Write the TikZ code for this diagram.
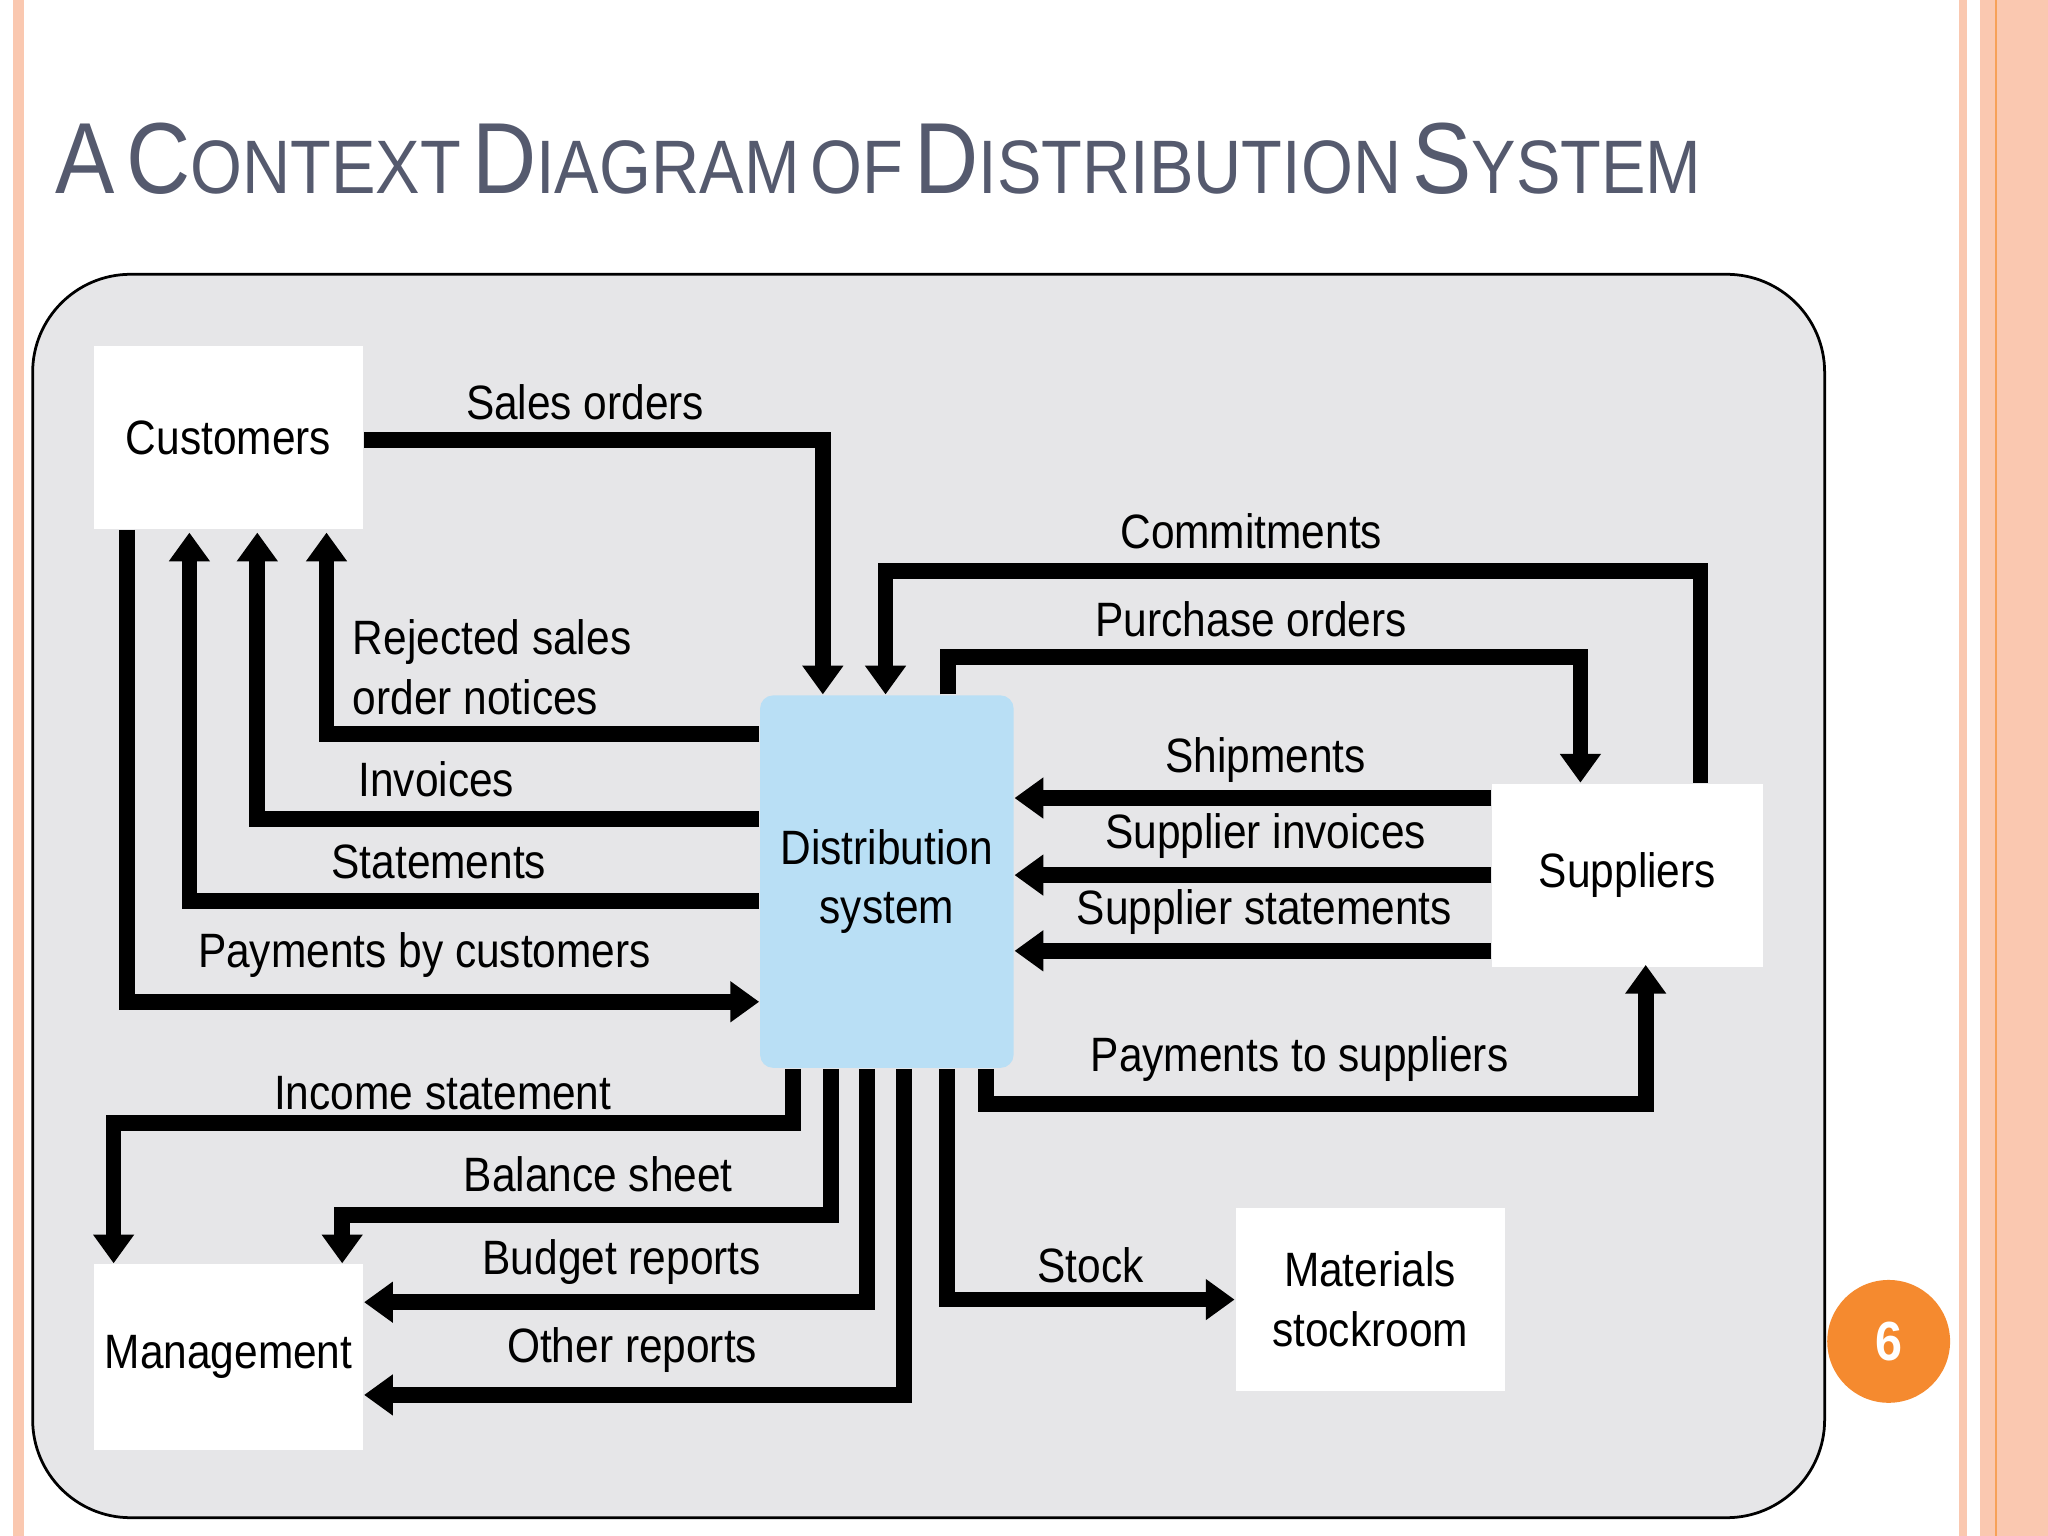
\documentclass[tikz,border=0pt]{standalone}
\usepackage{fontspec}
\setmainfont[FakeStretch=0.88]{Liberation Sans}
\usetikzlibrary{arrows.meta}
\definecolor{peach}{HTML}{FAC8B0}
\definecolor{titlec}{HTML}{555A6E}
\definecolor{panel}{HTML}{E6E6E8}
\definecolor{dsys}{HTML}{B9DFF5}
\definecolor{orng}{HTML}{F58A2F}
\newcommand{\bigL}[1]{{\fontsize{22pt}{24pt}\selectfont #1}}
\newcommand{\smL}[1]{{\fontsize{16.5pt}{18pt}\selectfont #1}}
\begin{document}
\begin{tikzpicture}[x=0.01cm,y=-0.01cm,
  box/.style={fill=white,draw=none,inner sep=0,font=\fontsize{10.5pt}{13pt}\selectfont,align=center},
  lbl/.style={font=\fontsize{10.5pt}{13pt}\selectfont,inner sep=1pt,align=left},
  fl/.style={line width=0.12cm,-{Triangle[width=0.3cm,length=0.22cm]}},
  fln/.style={line width=0.12cm}]
\useasboundingbox (0,0) rectangle (1568,1176);
\fill[white] (0,0) rectangle (1568,1176);
% borders
\fill[peach] (10,0) rectangle (18,1176);
\fill[peach] (1500,0) rectangle (1506,1176);
\fill[peach] (1516,0) rectangle (1568,1176);
\draw[orng!80,line width=0.4pt] (1528,0) -- (1528,1176);
% title
\node[anchor=base west,text=titlec,inner sep=0] (title) at (42,148)
 {\bigL{A} \smL{}\bigL{C}\smL{ONTEXT} \bigL{D}\smL{IAGRAM} \smL{OF} \bigL{D}\smL{ISTRIBUTION} \bigL{S}\smL{YSTEM}};
% panel
\draw[fill=panel,draw=black,line width=0.6pt,rounded corners=0.75cm] (25,210) rectangle (1397,1162);
% nodes
\node[box,minimum width=2.06cm,minimum height=1.4cm] (cust) at (175,335) {Customers};
\node[box,fill=dsys,rounded corners=0.1cm,minimum width=1.94cm,minimum height=2.85cm] (ds) at (679,675) {Distribution\\system};
\node[box,minimum width=2.07cm,minimum height=1.4cm] (sup) at (1246,670) {Suppliers};
\node[box,minimum width=2.06cm,minimum height=1.42cm] (mgmt) at (175,1039) {Management};
\node[box,minimum width=2.06cm,minimum height=1.4cm] (ms) at (1049,995) {Materials\\stockroom};
% coordinates
\coordinate (c1) at (630,337); \coordinate (c2) at (1302,437); \coordinate (c3) at (678,437);
\coordinate (c4) at (726,503); \coordinate (c5) at (1210,503);
\coordinate (c6) at (250,562); \coordinate (c7) at (197,627); \coordinate (c8) at (145,690);
\coordinate (c9) at (97,767);
\coordinate (c10) at (755,845); \coordinate (c11) at (1260,845);
\coordinate (c12) at (607,860); \coordinate (c13) at (87,860);
\coordinate (c14) at (636,930); \coordinate (c15) at (262,930);
\coordinate (c16) at (664,997); \coordinate (c17) at (692,1068); \coordinate (c18) at (725,995);
% flows
\draw[fl] (cust.east|-c1) -- (c1) -- (c1|-ds.north);
\draw[fl] (c2|-sup.north) -- (c2) -- (c3) -- (c3|-ds.north);
\draw[fl] (c4|-ds.north) -- (c4) -- (c5) -- (c5|-sup.north);
\draw[fl] (ds.west|-c6) -- (c6) -- ([yshift=-0.02cm]c6|-cust.south);
\draw[fl] (ds.west|-c7) -- (c7) -- ([yshift=-0.02cm]c7|-cust.south);
\draw[fl] (ds.west|-c8) -- (c8) -- ([yshift=-0.02cm]c8|-cust.south);
\draw[fl] (c9|-cust.south) -- (c9) -- (ds.west|-c9);
\draw[fl] (sup.west|-0,611) -- (ds.east|-0,611);
\draw[fl] (sup.west|-0,670) -- (ds.east|-0,670);
\draw[fl] (sup.west|-0,728) -- (ds.east|-0,728);
\draw[fl] (c10|-ds.south) -- (c10) -- (c11) -- ([yshift=0.02cm]c11|-sup.south);
\draw[fl] (c12|-ds.south) -- (c12) -- (c13) -- (c13|-mgmt.north);
\draw[fl] (c14|-ds.south) -- (c14) -- (c15) -- (c15|-mgmt.north);
\draw[fl] (c16|-ds.south) -- (c16) -- (mgmt.east|-c16);
\draw[fl] (c17|-ds.south) -- (c17) -- (mgmt.east|-c17);
\draw[fl] (c18|-ds.south) -- (c18) -- (ms.west|-c18);
% labels
\node[lbl] (l1) at (448,308) {Sales orders};
\node[lbl] (l2) at (958,407) {Commitments};
\node[lbl] (l3) at (958,474) {Purchase orders};
\node[lbl,anchor=west] (l4) at (266,511) {Rejected sales\\order notices};
\node[lbl] (l5) at (334,597) {Invoices};
\node[lbl] (l6) at (336,660) {Statements};
\node[lbl] (l7) at (325,731) {Payments by customers};
\node[lbl] (l8) at (969,582) {Shipments};
\node[lbl] (l9) at (969,640) {Supplier invoices};
\node[lbl] (l10) at (968,698) {Supplier statements};
\node[lbl] (l11) at (995,811) {Payments to suppliers};
\node[lbl] (l12) at (339,837) {Income statement};
\node[lbl] (l13) at (458,899) {Balance sheet};
\node[lbl] (l14) at (476,966) {Budget reports};
\node[lbl] (l15) at (484,1034) {Other reports};
\node[lbl] (l16) at (835,969) {Stock};
% page number
\node[circle,fill=orng,minimum size=0.94cm,inner sep=0,text=white,font=\bfseries\fontsize{12pt}{14pt}\selectfont] (pg) at (1446,1027) {6};
\end{tikzpicture}
\end{document}
